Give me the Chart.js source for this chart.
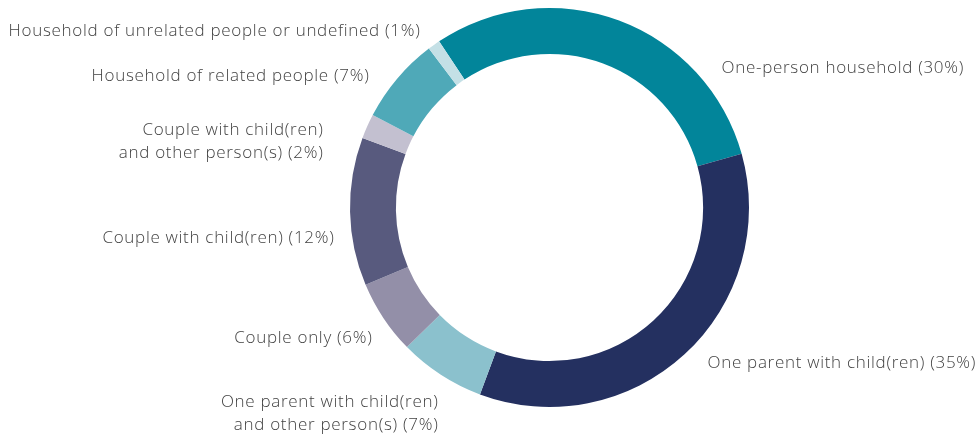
<!DOCTYPE html>
<html>
<head>
<meta charset="utf-8">
<script src="https://cdn.jsdelivr.net/npm/chart.js@4.4.0/dist/chart.umd.min.js"></script>
<style>
    html, body { margin: 0; padding: 0; background: #fff; }
    #wrap { width: 980px; height: 437px; position: relative; }
</style>
</head>
<body>
<div id="wrap"><canvas id="myChart-household-types"></canvas></div>
<script>
const categories = [
    'One-person household',
    'One parent with child(ren)',
    'One parent with child(ren)\nand other person(s)',
    'Couple only',
    'Couple with child(ren)',
    'Couple with child(ren)\nand other person(s)',
    'Household of related people',
    'Household of unrelated people or undefined'
];
const shares = [30, 35, 7, 6, 12, 2, 7, 1];

const sliceColors = [
    '#02859a',
    '#243060',
    '#8bc1cd',
    '#938fa8',
    '#585a7e',
    '#c3c0d0',
    '#4fa9b8',
    '#c4e0e6'
];

// label anchor relative to the doughnut centre, and which side the text hangs off
const labelAnchors = [
    { dx: 172, dy: -139, align: 'left' },
    { dx: 158, dy: 156, align: 'left' },
    { dx: -111, dy: 206, align: 'right' },
    { dx: -177, dy: 131, align: 'right' },
    { dx: -215, dy: 31, align: 'right' },
    { dx: -226, dy: -66, align: 'right' },
    { dx: -180, dy: -131, align: 'right' },
    { dx: -129, dy: -176, align: 'right' }
];

const outsideLabels = {
    id: 'outsideLabels',
    afterDatasetsDraw(chart) {
        const ctx = chart.ctx;
        const arc = chart.getDatasetMeta(0).data[0];
        const cx = arc.x;
        const cy = arc.y;
        ctx.save();
        ctx.font = '300 17px "Open Sans", "Liberation Sans", sans-serif';
        ctx.letterSpacing = '0.7px';
        ctx.fillStyle = '#424242';
        ctx.textBaseline = 'middle';
        categories.forEach((cat, i) => {
            const a = labelAnchors[i];
            const lines = (cat + ' (' + shares[i] + '%)').split('\n');
            const lh = 23;
            const y0 = cy + a.dy - (lines.length - 1) * lh / 2;
            ctx.textAlign = a.align;
            lines.forEach((ln, j) => ctx.fillText(ln, cx + a.dx, y0 + j * lh));
        });
        ctx.restore();
    }
};

const config = {
    type: 'doughnut',
    data: {
        labels: categories,
        datasets: [{
            data: shares,
            backgroundColor: sliceColors,
            borderWidth: 0,
            hoverOffset: 0
        }]
    },
    options: {
        responsive: true,
        maintainAspectRatio: false,
        animation: false,
        rotation: -33.6,
        cutout: '77%',
        layout: {
            padding: { top: 8, bottom: 30, left: 200, right: 81 }
        },
        plugins: {
            legend: { display: false },
            tooltip: { enabled: false }
        }
    },
    plugins: [outsideLabels]
};

const ctx = document.getElementById('myChart-household-types').getContext('2d');
new Chart(ctx, config);
</script>
</body>
</html>
